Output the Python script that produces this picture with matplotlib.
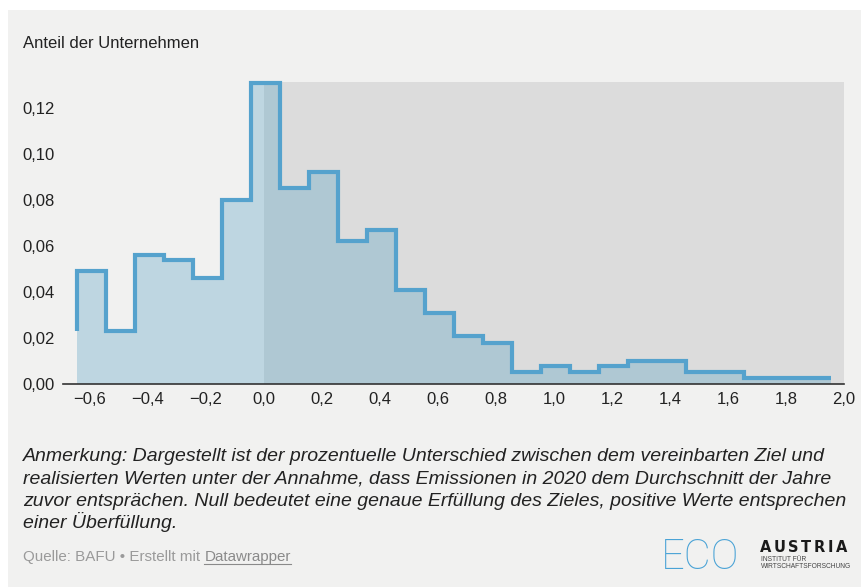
import matplotlib
matplotlib.use('Agg')
import matplotlib.pyplot as plt
from matplotlib.patches import Rectangle

# data
bin_edges = [-0.645, -0.545, -0.445, -0.345, -0.245, -0.145, -0.045, 0.055, 0.155,
             0.255, 0.355, 0.455, 0.555, 0.655, 0.755, 0.855, 0.955, 1.055, 1.155,
             1.255, 1.355, 1.455, 1.555, 1.655, 1.755, 1.855, 1.955]
share = [0.023, 0.049, 0.023, 0.056, 0.054, 0.046, 0.080, 0.131, 0.085,
         0.092, 0.062, 0.067, 0.041, 0.031, 0.021, 0.018, 0.005, 0.008,
         0.005, 0.008, 0.010, 0.010, 0.005, 0.005, 0.0025, 0.0025, 0.0025]
x_ticks = [-0.6, -0.4, -0.2, 0.0, 0.2, 0.4, 0.6, 0.8, 1.0, 1.2, 1.4, 1.6, 1.8, 2.0]
x_labels = ['\u22120,6', '\u22120,4', '\u22120,2', '0,0', '0,2', '0,4', '0,6',
            '0,8', '1,0', '1,2', '1,4', '1,6', '1,8', '2,0']
y_ticks = [0.0, 0.02, 0.04, 0.06, 0.08, 0.10, 0.12]
y_labels = ['0,00', '0,02', '0,04', '0,06', '0,08', '0,10', '0,12']

W, H = 861, 587
plt.rcParams['font.family'] = ['Liberation Sans', 'DejaVu Sans']

fig = plt.figure(figsize=(W / 100, H / 100), dpi=100, facecolor='white')

def fx(px):
    return px / W

def fy(py):
    return 1 - py / H

# grey card behind everything
fig.patches.append(Rectangle((fx(8), 0), 1 - fx(8), fy(10), transform=fig.transFigure,
                             facecolor='#f1f1f0', edgecolor='none', zorder=-10))

ax = fig.add_axes([fx(63), fy(384), fx(844) - fx(63), fy(82) - fy(384)])
ax.set_facecolor('none')

# shaded area for positive values
ax.axvspan(0.0, 2.0, color='#dcdcdc', lw=0, zorder=1)

ax.fill_between(bin_edges, share, 0, step='pre', color='#4a9ac1', alpha=0.3, lw=0, zorder=2)
ax.plot(bin_edges, share, drawstyle='steps-pre', color='#55a2cd', lw=3.0,
        solid_joinstyle='miter', solid_capstyle='butt', clip_on=False, zorder=3)

ax.set_xlim(-0.693, 2.0)
ax.set_ylim(0, 0.1313)

for s in ['top', 'right', 'left']:
    ax.spines[s].set_visible(False)
ax.spines['bottom'].set_color('#333333')
ax.spines['bottom'].set_linewidth(1.2)
ax.spines['bottom'].set_zorder(4)

ax.set_xticks(x_ticks)
ax.set_xticklabels(x_labels)
ax.set_yticks(y_ticks)
ax.set_yticklabels(y_labels)
ax.tick_params(axis='both', length=0, labelsize=12, labelcolor='#222222')
ax.tick_params(axis='x', pad=6)
ax.tick_params(axis='y', pad=6)

# texts
fig.text(fx(23), fy(48.5), 'Anteil der Unternehmen', fontsize=12, color='#222222',
         va='baseline', ha='left')

note = ['Anmerkung: Dargestellt ist der prozentuelle Unterschied zwischen dem vereinbarten Ziel und',
        'realisierten Werten unter der Annahme, dass Emissionen in 2020 dem Durchschnitt der Jahre',
        'zuvor entspr\u00e4chen. Null bedeutet eine genaue Erf\u00fcllung des Zieles, positive Werte entsprechen',
        'einer \u00dcberf\u00fcllung.']
for i, line in enumerate(note):
    fig.text(fx(23), fy(460.7 + 22.6 * i), line, fontsize=14, style='italic',
             color='#222222', va='baseline', ha='left')

src = fig.text(fx(23), fy(561.5), 'Quelle: BAFU \u2022 Erstellt mit ', fontsize=10.9,
               color='#9a9a9a', va='baseline', ha='left')
fig.canvas.draw()
bb = src.get_window_extent()
dw = fig.text(bb.x1 / W, fy(561.5), 'Datawrapper', fontsize=10.9, color='#8a8a8a',
              va='baseline', ha='left')
fig.canvas.draw()
bb2 = dw.get_window_extent()
fig.add_artist(plt.Line2D([bb2.x0 / W, bb2.x1 / W], [fy(564), fy(564)], color='#8a8a8a', lw=0.8))

# logo
fig.text(fx(661), fy(569), 'ECO', fontsize=30, color='#4aa3d6', fontweight='light',
         family=['Roboto', 'Lato', 'DejaVu Sans'], va='baseline', ha='left')

# "AUSTRIA" with wide letter spacing
letters = [fig.text(0, fy(552), ch, fontsize=10.5, fontweight='bold', color='#1a1a1a',
                    family=['DejaVu Sans'], va='baseline', ha='left') for ch in 'AUSTRIA']
fig.canvas.draw()
r = fig.canvas.get_renderer()
widths = [t.get_window_extent(r).width for t in letters]
gap = (87 - sum(widths)) / (len(letters) - 1)
xpos = 760
for t, w in zip(letters, widths):
    t.set_x(fx(xpos))
    xpos += w + gap

fig.text(fx(761), fy(561), 'INSTITUT F\u00dcR', fontsize=4.8, color='#444444',
         va='baseline', ha='left')
fig.text(fx(761), fy(568), 'WIRTSCHAFTSFORSCHUNG', fontsize=4.8, color='#444444',
         va='baseline', ha='left')

fig.savefig('out.png', dpi=100, facecolor='white')
